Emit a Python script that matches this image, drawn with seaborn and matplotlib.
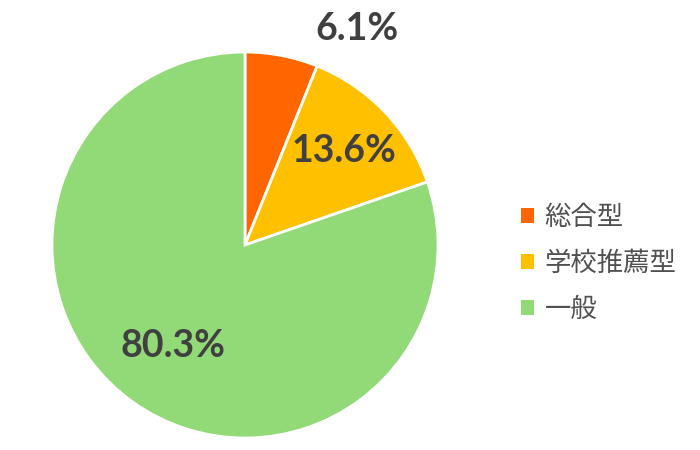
import numpy as np
import matplotlib
matplotlib.use("Agg")
import matplotlib.pyplot as plt
from matplotlib.patches import Patch
import seaborn as sns

categories = ["総合型", "学校推薦型", "一般"]
shares = [6.1, 13.6, 80.3]
colors = ["#FF6600", "#FFC000", "#92D978"]

sns.set_theme(style="white")
plt.rcParams["font.family"] = ["Lato", "Noto Sans CJK JP", "DejaVu Sans"]

fig = plt.figure(figsize=(7, 4.5), dpi=100)
ax = fig.add_axes([52 / 700, 12 / 450, 386 / 700, 386 / 450])

wedges, texts, autotexts = ax.pie(
    shares,
    colors=sns.color_palette(colors),
    startangle=90,
    counterclock=False,
    autopct="%.1f%%",
    pctdistance=0.65,
    wedgeprops=dict(edgecolor="white", linewidth=2),
    textprops=dict(fontsize=27, fontweight="bold", color="#404040"),
)
# label placement like the original: small slice label outside, others inside
autotexts[0].set_position((0.58, 1.12))
for w, t, d in zip(wedges[1:], autotexts[1:], [0.71, 0.64]):
    ang = np.deg2rad((w.theta1 + w.theta2) / 2)
    t.set_position((d * np.cos(ang), d * np.sin(ang)))
ax.set_xlim(-1, 1)
ax.set_ylim(-1, 1)

handles = [Patch(facecolor=c, edgecolor="none") for c in colors]
fig.legend(
    handles, categories,
    loc="center left", bbox_to_anchor=(0.71, 0.415),
    frameon=False, fontsize=19, labelcolor="#505050",
    handlelength=0.5, handleheight=0.5, handletextpad=0.4,
    labelspacing=0.8,
)

fig.savefig("out.png", dpi=100, facecolor="white")
